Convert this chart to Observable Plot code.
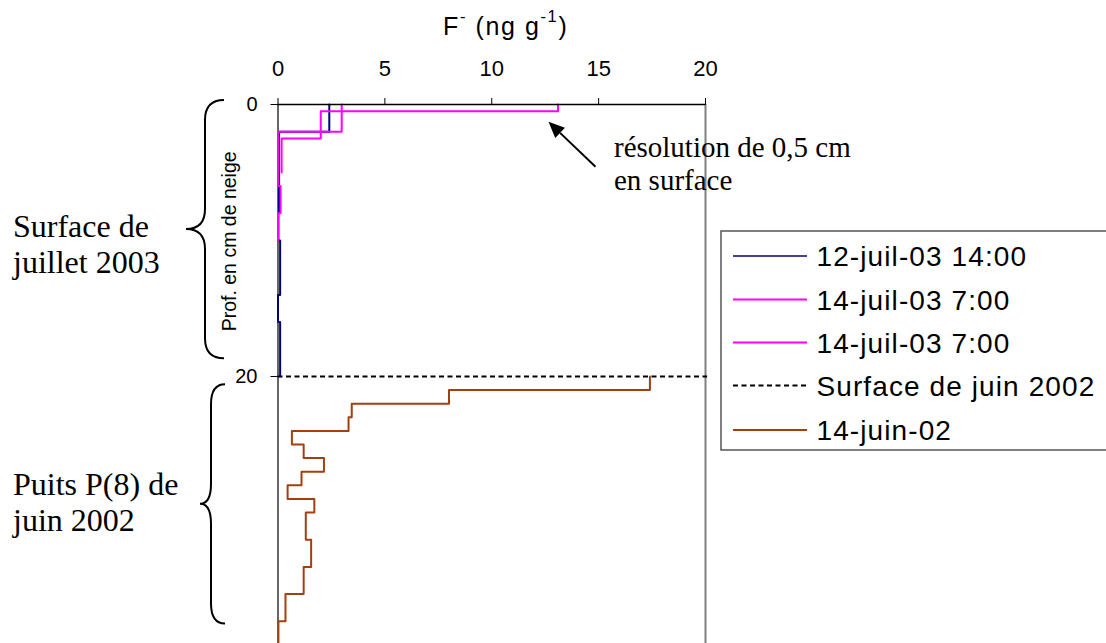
<!DOCTYPE html>
<html><head><meta charset="utf-8">
<script src="https://cdn.jsdelivr.net/npm/d3@7"></script>
<script src="https://cdn.jsdelivr.net/npm/@observablehq/plot@0.6"></script>
<style>
html,body{margin:0;padding:0;overflow:hidden;background:#fff;}
#chart{position:relative;width:1106px;height:643px;overflow:hidden;}
#chart svg{display:block;}
</style></head><body><div id="chart"></div>
<script>
// ---- data ----
const xTicks = [0, 5, 10, 15, 20];
const yTicks = [0, 20];
const seriesNames = ["12-juil-03 14:00", "14-juil-03 7:00", "14-juil-03 7:00", "Surface de juin 2002", "14-juin-02"];
const seriesColors = ["#000080", "#ff00ff", "#ff00ff", "#000000", "#a3400f"];
// depth bounds (cm) and F- values (ng/g) for each depth interval
const depth12juil = [0, 2, 4, 6, 8, 10, 12, 14, 16, 18, 20];
const f12juil = [2.4, 0.05, 0.05, 0.05, 0.02, 0.1, 0.1, 0, 0.1, 0.1];
const depth14juilA = [0, 0.5, 2.5, 5];
const f14juilA = [13.1, 2.0, 0.17];
const depth14juilB = [0, 2, 6, 8, 10];
const f14juilB = [2.98, 0, 0.12, 0];
const surfaceJuin2002 = 20;
const depth14juin02 = [20, 21, 22, 23, 24, 25, 26, 27, 28, 29, 30, 32, 34, 36, 38, 40];
const f14juin02 = [17.4, 8.0, 3.45, 3.3, 0.65, 1.2, 2.15, 1.1, 0.45, 1.7, 1.3, 1.55, 1.2, 0.35, 0.02];

function steps(bounds, vals) {
  const out = [];
  vals.forEach((v, i) => { out.push({f: v, d: bounds[i]}); out.push({f: v, d: bounds[i + 1]}); });
  return out;
}

const plot = Plot.plot({
  width: 1106, height: 648,
  marginTop: 104, marginLeft: 277.5, marginRight: 401, marginBottom: 0,
  style: {fontFamily: "'Liberation Sans', Arial, sans-serif", background: "transparent", overflow: "visible", color: "#000"},
  x: {domain: [0, 20]},
  y: {domain: [0, 40], reverse: true},
  marks: [
    Plot.ruleX([20], {stroke: "#808080", strokeWidth: 2}),
    Plot.ruleX([0], {stroke: "#333", strokeWidth: 1.5}),
    Plot.ruleY([{y: surfaceJuin2002, x1: 0, x2: 20.1}], {y: "y", x1: "x1", x2: "x2", stroke: seriesColors[3], strokeWidth: 2, strokeDasharray: "5,3.5"}),
    Plot.line(steps(depth14juin02, f14juin02), {x: "f", y: "d", stroke: seriesColors[4], strokeWidth: 2}),
    Plot.line(steps(depth12juil, f12juil), {x: "f", y: "d", stroke: seriesColors[0], strokeWidth: 2}),
    Plot.line(steps(depth14juilA, f14juilA), {x: "f", y: "d", stroke: seriesColors[1], strokeWidth: 2}),
    Plot.line(steps(depth14juilB, f14juilB), {x: "f", y: "d", stroke: seriesColors[2], strokeWidth: 2}),
    Plot.ruleY([0], {stroke: "#000", strokeWidth: 1.5}),
    Plot.axisX({anchor: "top", ticks: xTicks, tickSize: 7, tickPadding: 22, fontSize: 22, label: null, stroke: "#000"}),
    Plot.axisY({anchor: "left", ticks: yTicks, tickSize: 7, tickPadding: 13.5, fontSize: 20, label: null, stroke: "#000"})
  ]
});
document.getElementById("chart").appendChild(plot);

const svg = d3.select(plot);
const xs = plot.scale("x"), ys = plot.scale("y");
const X = v => xs.apply(v), Y = v => ys.apply(v);
const sans = "'Liberation Sans', Arial, sans-serif";
const serif = "'Liberation Serif', 'Times New Roman', serif";

// axis title
const t = svg.append("text").attr("x", 443).attr("y", 34.5).attr("text-anchor", "start")
  .attr("font-family", sans).attr("font-size", 25).attr("letter-spacing", 1.6).attr("fill", "#000");
t.append("tspan").text("F");
t.append("tspan").attr("font-size", 16.5).attr("dy", -13).text("-");
t.append("tspan").attr("dy", 13).text(" (ng g");
t.append("tspan").attr("font-size", 16.5).attr("dy", -13).text("-1");
t.append("tspan").attr("dy", 13).text(")");

// y title
svg.append("text").attr("transform", `translate(236,${Y(10.1)}) rotate(-90)`)
  .attr("text-anchor", "middle").attr("font-family", sans)
  .attr("font-size", 19.5).attr("fill", "#000").text("Prof. en cm de neige");

// braces
function brace(d0, d1, xSpine, xTip, xEnd) {
  const y0 = Y(d0), y1 = Y(d1), ym = (y0 + y1) / 2, r = 20;
  return `M${xEnd},${y0} Q${xSpine},${y0} ${xSpine},${y0 + r} L${xSpine},${ym - r} Q${xSpine},${ym} ${xTip},${ym} ` +
         `Q${xSpine},${ym} ${xSpine},${ym + r} L${xSpine},${y1 - r} Q${xSpine},${y1} ${xEnd},${y1}`;
}
svg.append("path").attr("d", brace(-0.3, 18.7, 205, 186, 224)).attr("fill", "none").attr("stroke", "#000").attr("stroke-width", 2);
svg.append("path").attr("d", brace(20.6, 38.2, 211, 200, 225)).attr("fill", "none").attr("stroke", "#000").attr("stroke-width", 2);

function lines(x, ys0, arr, size) {
  arr.forEach((s, i) => svg.append("text").attr("x", x).attr("y", ys0[i]).attr("text-anchor", "start")
    .attr("font-family", serif).attr("font-size", size).attr("fill", "#000").text(s));
}
lines(13, [237, 273], ["Surface de", "juillet 2003"], 32);
lines(13, [495, 531], ["Puits P(8) de", "juin 2002"], 32);
lines(614, [157, 190], ["résolution de 0,5 cm", "en surface"], 29);

// arrow pointing at the 0.5 cm surface step
const hx = X(f14juilA[0]) - 9, hy = Y(depth14juilA[1]) + 11;
const tx = hx + 47, ty = hy + 45;
const ang = Math.atan2(hy - ty, hx - tx), L = 16, W = 7;
const bx = hx - L * Math.cos(ang), by = hy - L * Math.sin(ang);
svg.append("line").attr("x1", tx).attr("y1", ty).attr("x2", bx).attr("y2", by).attr("stroke", "#000").attr("stroke-width", 2);
svg.append("polygon").attr("points", [
  [hx, hy], [bx + W * Math.sin(ang), by - W * Math.cos(ang)], [bx - W * Math.sin(ang), by + W * Math.cos(ang)]
].map(p => p.join(",")).join(" ")).attr("fill", "#000");

// legend
const lg = svg.append("g");
lg.append("rect").attr("x", 721).attr("y", 231).attr("width", 420).attr("height", 219)
  .attr("fill", "#fff").attr("stroke", "#555").attr("stroke-width", 1.5);
const rowY = [256, 299.5, 342.5, 385.5, 430];
seriesNames.forEach((name, i) => {
  lg.append("line").attr("x1", 733).attr("x2", 807).attr("y1", rowY[i]).attr("y2", rowY[i])
    .attr("stroke", seriesColors[i]).attr("stroke-width", i === 0 ? 1.5 : 2)
    .attr("stroke-dasharray", i === 3 ? "5,3.5" : null);
  lg.append("text").attr("x", 816.5).attr("y", rowY[i] + 10).attr("text-anchor", "start")
    .attr("font-family", sans).attr("font-size", 28)
    .attr("letter-spacing", 1.1).attr("fill", "#000").text(name);
});
</script></body></html>
